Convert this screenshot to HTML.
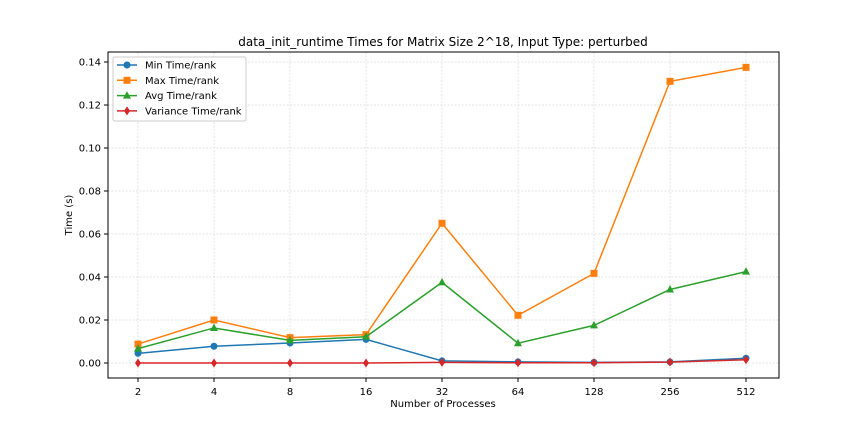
<!DOCTYPE html>
<html><head><meta charset="utf-8"><style>
body{margin:0;background:#fff;}
svg{display:block;font-family:"DejaVu Sans","Liberation Sans",sans-serif;}
</style></head><body>
<svg id="chart" width="864" height="432">
<rect width="864" height="432" fill="#fff"/>
<text x="443" y="46" text-anchor="middle" font-size="12">data_init_runtime Times for Matrix Size 2^18, Input Type: perturbed</text>
<g id="grid"></g><g id="axes"></g><g id="series"></g>
<rect x="108" y="52" width="671" height="326" fill="none" stroke="#000" stroke-width="1"/>
<text x="443" y="407" text-anchor="middle" font-size="10">Number of Processes</text>
<text x="72" y="215" text-anchor="middle" font-size="10" transform="rotate(-90 72 215)">Time (s)</text>
<g id="legend"></g>
</svg>
<script>
const categories=["2","4","8","16","32","64","128","256","512"];
const minVals=[0.0045,0.0078,0.0093,0.011,0.001,0.0005,0.0003,0.0005,0.0022];
const maxVals=[0.0088,0.0200,0.0118,0.0132,0.065,0.0222,0.0417,0.131,0.1375];
const avgVals=[0.0067,0.0163,0.0105,0.0122,0.0375,0.0092,0.0175,0.0342,0.0425];
const varVals=[0.0000,0.0000,0.0000,0.0000,0.0003,0.0001,0.0001,0.0004,0.0015];
const yTicks=[0,0.02,0.04,0.06,0.08,0.10,0.12,0.14];
const yTickLabels=["0.00","0.02","0.04","0.06","0.08","0.10","0.12","0.14"];
const seriesNames=["Min Time/rank","Max Time/rank","Avg Time/rank","Variance Time/rank"];
const NS="http://www.w3.org/2000/svg";
const xS=i=>138+i*76;
const yS=v=>363-v*(301/0.14);
function mk(tag,attrs,parent){const e=document.createElementNS(NS,tag);for(const k in attrs)e.setAttribute(k,attrs[k]);parent.appendChild(e);return e;}
const grid=document.getElementById('grid'),axes=document.getElementById('axes'),ser=document.getElementById('series');
categories.forEach((c,i)=>{
  const g=mk('line',{x1:xS(i),x2:xS(i),y1:52,y2:378,stroke:'#dcdcdc','stroke-width':0.8,'stroke-dasharray':'2,1.5'},grid);
  
  
  mk('line',{x1:xS(i),x2:xS(i),y1:378,y2:382,stroke:'#000'},axes);
  const t=mk('text',{x:xS(i),y:395,'text-anchor':'middle','font-size':10},axes);t.textContent=c;
  
  
});
yTicks.forEach((v,i)=>{
  const g=mk('line',{x1:108,x2:779,y1:yS(v),y2:yS(v),stroke:'#dcdcdc','stroke-width':0.8,'stroke-dasharray':'2,1.5'},grid);
  
  
  mk('line',{x1:104,x2:108,y1:yS(v),y2:yS(v),stroke:'#000'},axes);
  const t=mk('text',{x:101,y:yS(v)+3.5,'text-anchor':'end','font-size':10},axes);t.textContent=yTickLabels[i];
  
  
});
function marker(type,x,y,col,p){
  if(type==='o')return mk('circle',{cx:x,cy:y,r:3.5,fill:col},p);
  if(type==='s')return mk('rect',{x:x-3.5,y:y-3.5,width:7,height:7,fill:col},p);
  if(type==='^')return mk('polygon',{points:`${x},${y-4.5} ${x-4},${y+3} ${x+4},${y+3}`,fill:col},p);
  return mk('polygon',{points:`${x},${y-4.5} ${x-3},${y} ${x},${y+4.5} ${x+3},${y}`,fill:col},p);
}
const allSeries=[[minVals,'#1f77b4','o','min-series'],[maxVals,'#ff7f0e','s','max-series'],[avgVals,'#2ca02c','^','avg-series'],[varVals,'#d62728','d','variance-series']];
allSeries.forEach(([vals,col,m,name])=>{
  const g=mk('g',{},ser);
  
  
  const pl=mk('polyline',{points:vals.map((v,i)=>xS(i)+','+yS(v)).join(' '),fill:'none',stroke:col,'stroke-width':1.5},g);
  
  
  vals.forEach((v,i)=>{const mm=marker(m,xS(i),yS(v),col,g);
    
    });
});
const lg=document.getElementById('legend');
mk('rect',{x:113,y:57,width:133,height:64,rx:2,fill:'#fff','fill-opacity':0.85,stroke:'#ccc'},lg);
allSeries.forEach(([vals,col,m,name],i)=>{
  const y=65+i*15.3;
  mk('line',{x1:117,x2:137,y1:y,y2:y,stroke:col,'stroke-width':1.5},lg);
  marker(m,127,y,col,lg);
  const t=mk('text',{x:145,y:y+3.5,'font-size':10},lg);t.textContent=seriesNames[i];
  
  
});
</script>
</body></html>
